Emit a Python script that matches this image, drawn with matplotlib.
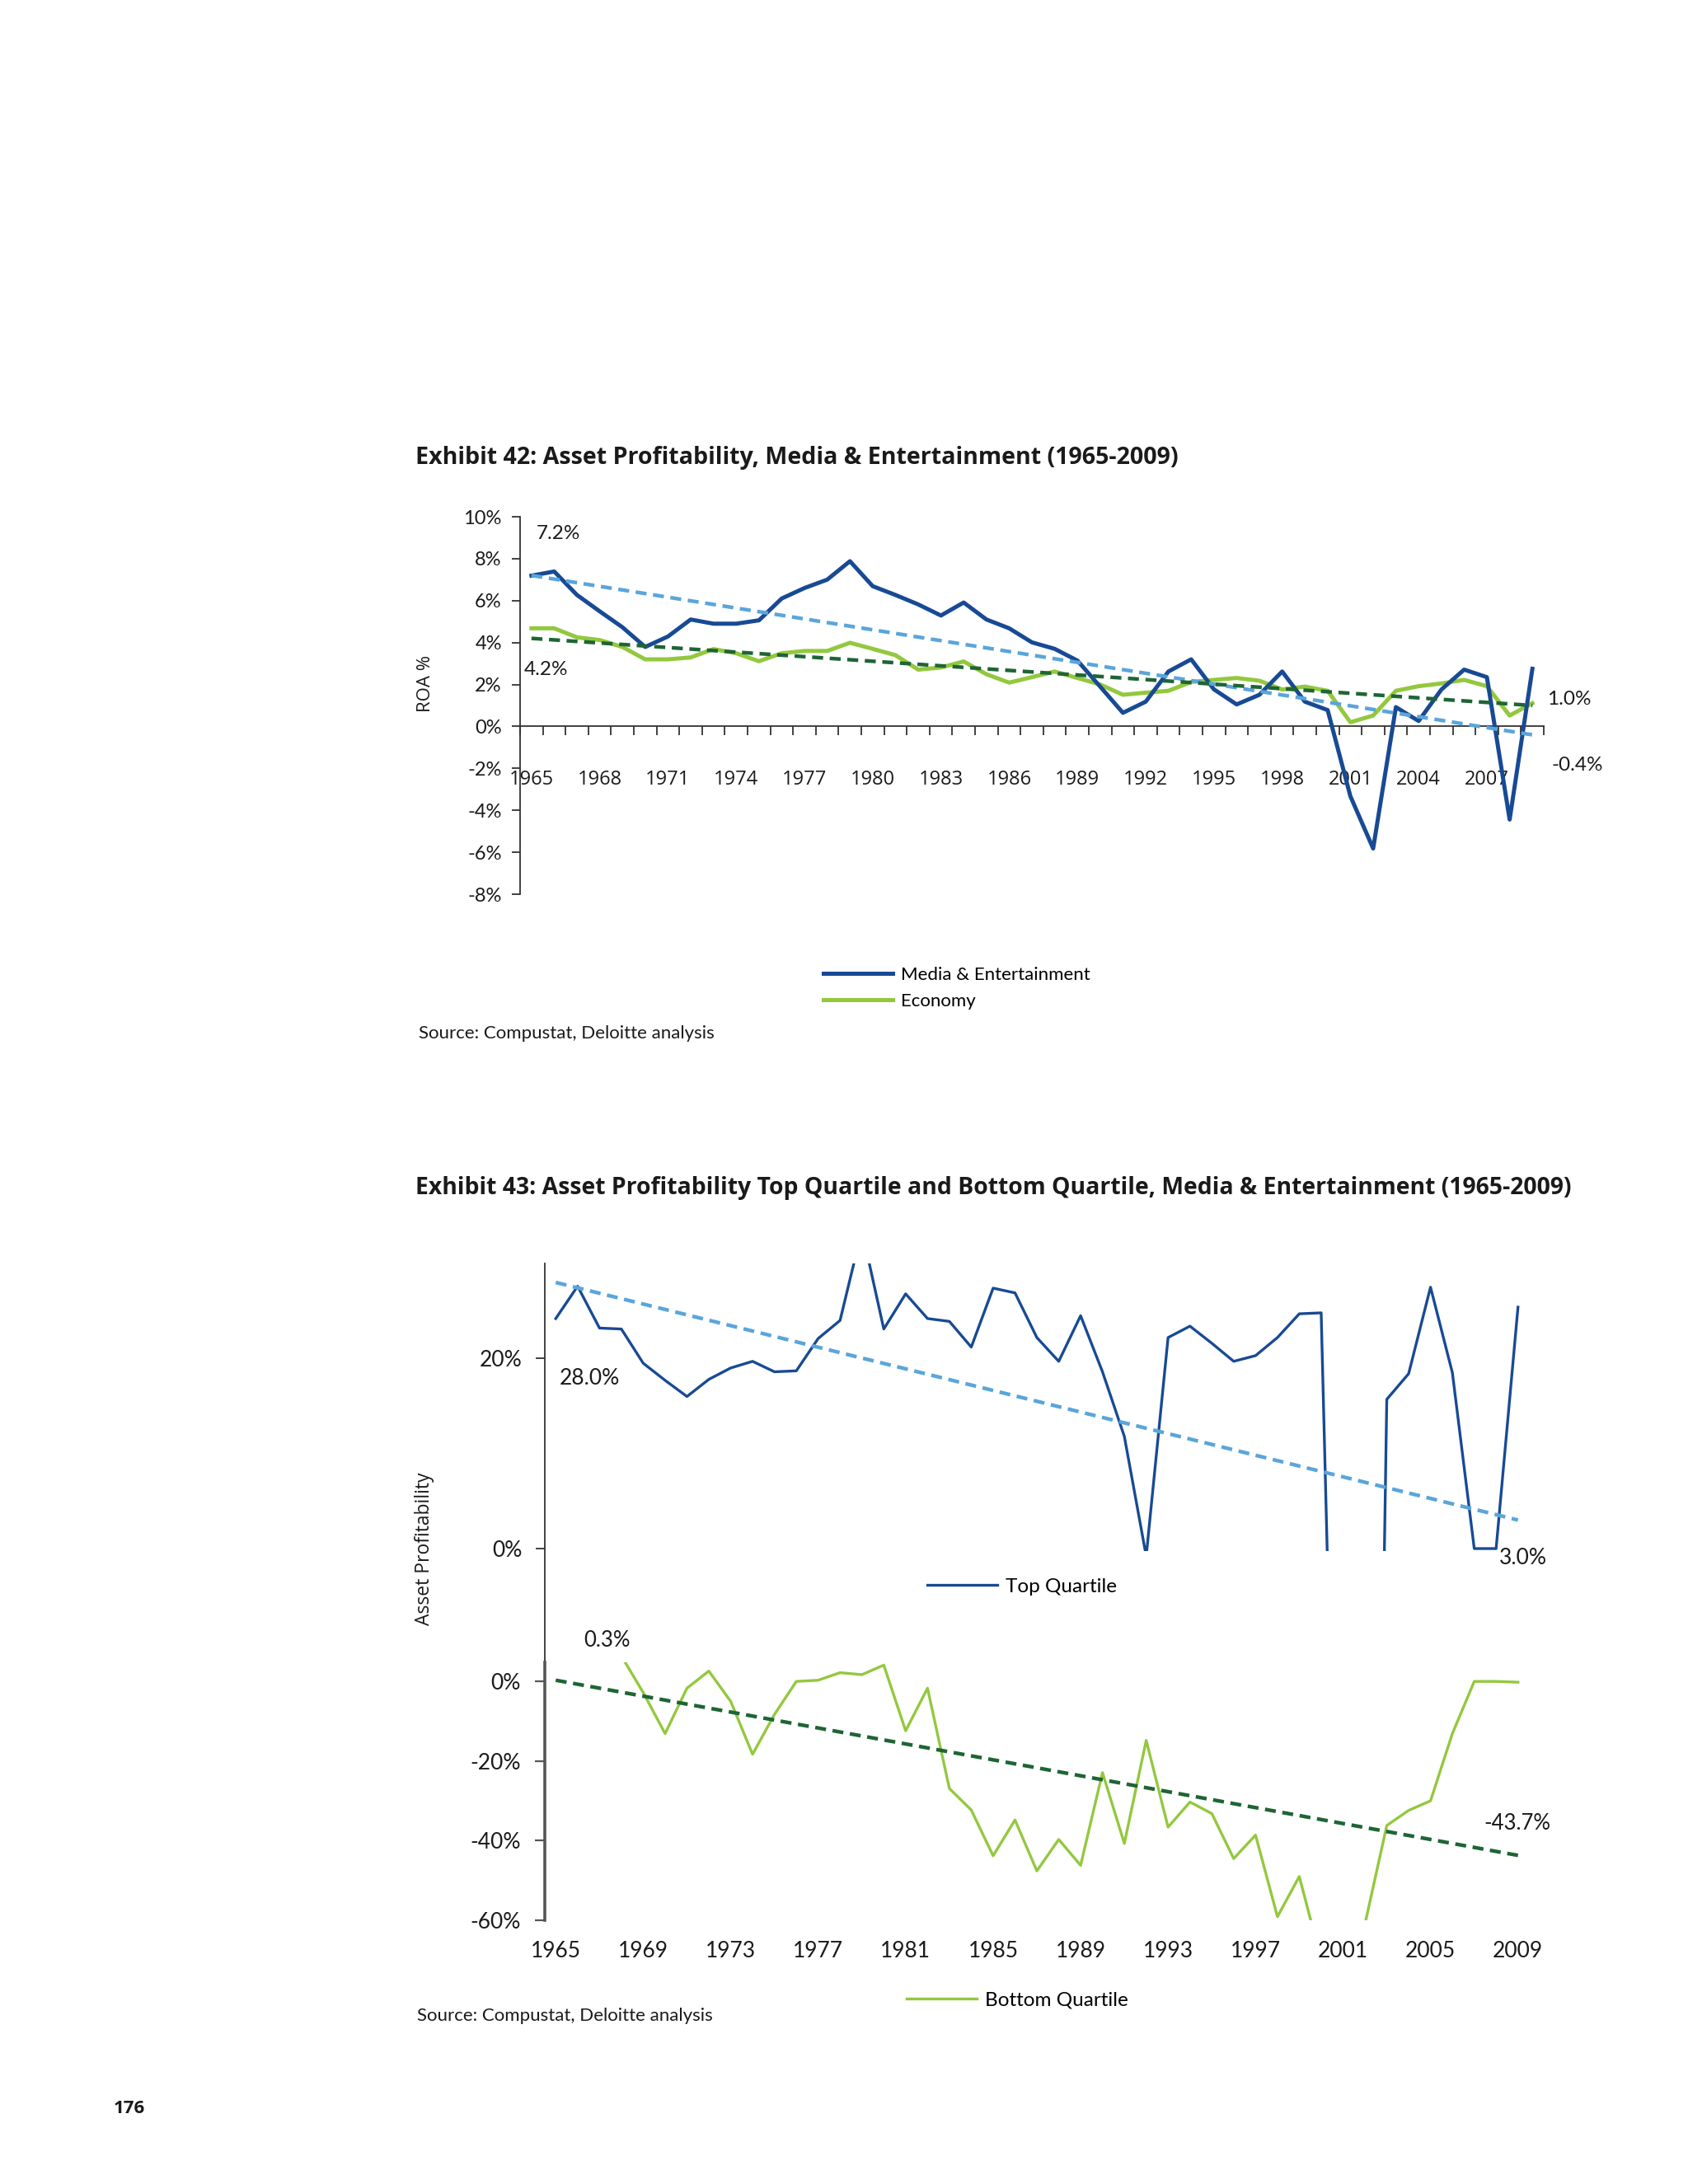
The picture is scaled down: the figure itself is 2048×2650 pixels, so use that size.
import numpy as np
import matplotlib
matplotlib.use("Agg")
from matplotlib import pyplot as plt
from matplotlib.ticker import FixedLocator, PercentFormatter

years = list(range(1965, 2010))

media_roa = [7.19, 7.39, 6.27, 5.49, 4.73, 3.79, 4.29, 5.10, 4.90, 4.90,
             5.06, 6.10, 6.60, 7.00, 7.88, 6.69, 6.27, 5.82, 5.29, 5.91,
             5.10, 4.68, 4.01, 3.70, 3.14, 1.90, 0.65, 1.18, 2.62, 3.20,
             1.77, 1.05, 1.51, 2.62, 1.18, 0.78, -3.33, -5.82, 0.92, 0.26,
             1.76, 2.71, 2.35, -4.44, 2.75]
economy_roa = [4.68, 4.68, 4.25, 4.12, 3.79, 3.20, 3.20, 3.29, 3.69, 3.49,
               3.11, 3.49, 3.60, 3.60, 3.99, 3.70, 3.40, 2.71, 2.81, 3.10,
               2.49, 2.09, 2.35, 2.62, 2.31, 2.00, 1.51, 1.61, 1.70, 2.12,
               2.22, 2.31, 2.18, 1.76, 1.90, 1.70, 0.20, 0.52, 1.70, 1.92,
               2.05, 2.22, 1.92, 0.52, 1.11]
media_trend = [7.2, -0.4]
economy_trend = [4.2, 1.0]

top_quartile = [24.2, 27.6, 23.2, 23.1, 19.5, 17.7, 16.0, 17.8, 19.0, 19.7,
                18.6, 18.7, 22.1, 24.0, 33.5, 23.1, 26.8, 24.2, 23.9, 21.2,
                27.4, 26.9, 22.2, 19.7, 24.5, 18.6, 11.8, -0.8, 22.2, 23.4,
                21.6, 19.7, 20.3, 22.2, 24.7, 24.8, -66.0, -130.0, 15.7, 18.4,
                27.5, 18.5, 0.0, 0.0, 25.4]
bottom_quartile = [12.0, 18.0, 10.0, 6.4, -2.8, -13.1, -1.7, 2.6, -5.0, -18.3,
                   -8.3, 0.0, 0.3, 2.2, 1.7, 4.1, -12.4, -1.7, -26.9, -32.3,
                   -43.8, -34.8, -47.6, -39.7, -46.2, -22.9, -40.7, -14.8, -36.6, -30.3,
                   -33.2, -44.5, -38.6, -59.1, -49.0, -70.0, -120.0, -61.0, -36.2, -32.4,
                   -30.0, -13.1, 0.0, 0.0, -0.2]
top_trend = [28.0, 3.0]
bottom_trend = [0.3, -43.7]

ends = [years[0], years[-1]]

DARK_BLUE = "#184a94"
LIGHT_BLUE = "#5aa5db"
LIME = "#93c83e"
DARK_GREEN = "#1e6534"
TXT = "#1a1a1a"

COND = ["Lato", "DejaVu Sans"]
REG = ["Open Sans", "DejaVu Sans"]
plt.rcParams["font.family"] = REG
plt.rcParams["axes.unicode_minus"] = False

W, H = 2048, 2650
fig = plt.figure(figsize=(W / 100, H / 100), dpi=100)
fig.patch.set_facecolor("white")


def box(left, top, right, bottom):
    return [left / W, 1 - bottom / H, (right - left) / W, (bottom - top) / H]


def fx(x):
    return x / W


def fy(y):
    return 1 - y / H


# ================= Exhibit 42 =================
fig.text(fx(504), fy(555), "Exhibit 42: Asset Profitability, Media & Entertainment (1965-2009)",
         fontsize=20.6, fontweight="bold", color=TXT, va="center", ha="left")

ax1 = fig.add_axes(box(631, 627, 1873, 1085))
l_media, = ax1.plot(years, media_roa, color=DARK_BLUE, lw=3.6, solid_joinstyle="round",
                    label="Media & Entertainment", zorder=4)
l_econ, = ax1.plot(years, economy_roa, color=LIME, lw=3.6, solid_joinstyle="round",
                   label="Economy", zorder=3)
ax1.plot(ends, media_trend, color=LIGHT_BLUE, lw=3.2, ls=(0, (3, 1.8)), zorder=5)
ax1.plot(ends, economy_trend, color=DARK_GREEN, lw=3.2, ls=(0, (3, 1.8)), zorder=5)

ax1.set_xlim(1964.5, 2009.5)
ax1.set_ylim(-8, 10)
ax1.yaxis.set_major_locator(FixedLocator(np.arange(-8, 11, 2)))
ax1.yaxis.set_major_formatter(PercentFormatter(decimals=0))
ax1.set_xticks(years[::3])
ax1.set_xticks(np.arange(1964.5, 2010, 1), minor=True)
ax1.tick_params(axis="x", which="major", length=0, pad=38, labelsize=17, labelcolor=TXT)
ax1.tick_params(axis="x", which="minor", length=8, width=1.3, color="#333333", direction="out")
ax1.tick_params(axis="y", length=7, width=1.3, color="#333333", pad=9, labelsize=17, labelcolor=TXT)
for lab in ax1.get_xticklabels() + ax1.get_yticklabels():
    lab.set_family(COND)
for s in ["top", "right"]:
    ax1.spines[s].set_visible(False)
ax1.spines["bottom"].set_position(("data", 0))
for s in ["bottom", "left"]:
    ax1.spines[s].set_linewidth(1.3)
    ax1.spines[s].set_color("#333333")
ax1.patch.set_alpha(0)

fig.text(fx(516), fy(829), "ROA %", rotation=90, fontsize=16, color=TXT, va="center", ha="center")
fig.text(fx(651), fy(647), "7.2%", fontsize=17.5, family=COND, color=TXT, va="center")
fig.text(fx(636), fy(813), "4.2%", fontsize=17.5, family=COND, color=TXT, va="center")
fig.text(fx(1877), fy(848), "1.0%", fontsize=17.5, family=COND, color=TXT, va="center")
fig.text(fx(1882), fy(928), "-0.4%", fontsize=17.5, family=COND, color=TXT, va="center")

fig.legend(handles=[l_media, l_econ], loc="center left", bbox_to_anchor=(fx(999), fy(1199)),
           frameon=False, handlelength=3.8, handletextpad=0.45, labelspacing=0.55,
           borderpad=0, borderaxespad=0, prop={"family": COND, "size": 16})

fig.text(fx(508), fy(1254), "Source: Compustat, Deloitte analysis", fontsize=16, family=COND,
         color=TXT, va="center")

# ================= Exhibit 43 =================
fig.text(fx(504), fy(1442),
         "Exhibit 43: Asset Profitability Top Quartile and Bottom Quartile, Media & Entertainment (1965-2009)",
         fontsize=20.4, fontweight="bold", color=TXT, va="center", ha="left")

# top quartile panel
ax2 = fig.add_axes(box(661, 1533, 1855, 1882))
l_top, = ax2.plot(years, top_quartile, color=DARK_BLUE, lw=2.4, label="Top Quartile", zorder=3)
ax2.plot(ends, top_trend, color=LIGHT_BLUE, lw=3.2, ls=(0, (3, 1.8)), zorder=4)
ax2.set_xlim(1964.5, 2009.5)
ax2.set_ylim(-0.26, 30)
ax2.yaxis.set_major_locator(FixedLocator([0, 20]))
ax2.yaxis.set_major_formatter(PercentFormatter(decimals=0))
ax2.set_xticks([])
ax2.tick_params(axis="y", length=8, width=1.3, color="#333333", pad=12, labelsize=19, labelcolor=TXT)
for lab in ax2.get_yticklabels():
    lab.set_family(COND)
for s in ["top", "right", "bottom"]:
    ax2.spines[s].set_visible(False)
ax2.spines["left"].set_bounds(-39.1, 30)
ax2.spines["left"].set_linewidth(1.3)
ax2.spines["left"].set_color("#333333")
ax2.patch.set_alpha(0)
ax2.legend(handles=[l_top], loc="center left", bbox_to_anchor=(fx(1125), fy(1925)),
           bbox_transform=fig.transFigure, frameon=False, handlelength=3.5, handletextpad=0.4,
           borderpad=0, borderaxespad=0, prop={"family": COND, "size": 17.5})

fig.text(fx(679), fy(1672), "28.0%", fontsize=19, family=COND, color=TXT, va="center")
fig.text(fx(1819), fy(1890), "3.0%", fontsize=19, family=COND, color=TXT, va="center")

fig.text(fx(515), fy(1879), "Asset Profitability", rotation=90, fontsize=16.5, color=TXT,
         va="center", ha="center")

# bottom quartile panel
ax3 = fig.add_axes(box(661, 2017, 1855, 2330))
l_bot, = ax3.plot(years, bottom_quartile, color=LIME, lw=2.4, label="Bottom Quartile", zorder=3)
ax3.plot(ends, bottom_trend, color=DARK_GREEN, lw=3.2, ls=(0, (3, 1.8)), zorder=4)
ax3.set_xlim(1964.5, 2009.5)
ax3.set_ylim(-60, 4.8)
ax3.yaxis.set_major_locator(FixedLocator([-60, -40, -20, 0]))
ax3.yaxis.set_major_formatter(PercentFormatter(decimals=0))
ax3.set_xticks(years[::4])
ax3.tick_params(axis="x", length=0, pad=18, labelsize=19, labelcolor=TXT)
ax3.tick_params(axis="y", length=9, width=1.6, color="#555555", pad=12, labelsize=19, labelcolor=TXT)
for lab in ax3.get_xticklabels() + ax3.get_yticklabels():
    lab.set_family(COND)
for s in ["top", "right", "bottom"]:
    ax3.spines[s].set_visible(False)
ax3.spines["left"].set_linewidth(2.6)
ax3.spines["left"].set_color("#555555")
ax3.patch.set_alpha(0)
ax3.legend(handles=[l_bot], loc="center left", bbox_to_anchor=(fx(1100), fy(2427)),
           bbox_transform=fig.transFigure, frameon=False, handlelength=3.5, handletextpad=0.4,
           borderpad=0, borderaxespad=0, prop={"family": COND, "size": 17.5})

fig.text(fx(708), fy(1990), "0.3%", fontsize=18.5, family=COND, color=TXT, va="center")
fig.text(fx(1800), fy(2212), "-43.7%", fontsize=18.5, family=COND, color=TXT, va="center")

fig.text(fx(506), fy(2446), "Source: Compustat, Deloitte analysis", fontsize=16, family=COND,
         color=TXT, va="center")

fig.text(fx(138), fy(2559), "176", fontsize=16, fontweight="bold", color=TXT, va="center")

fig.savefig("out.png", dpi=100, facecolor="white")
